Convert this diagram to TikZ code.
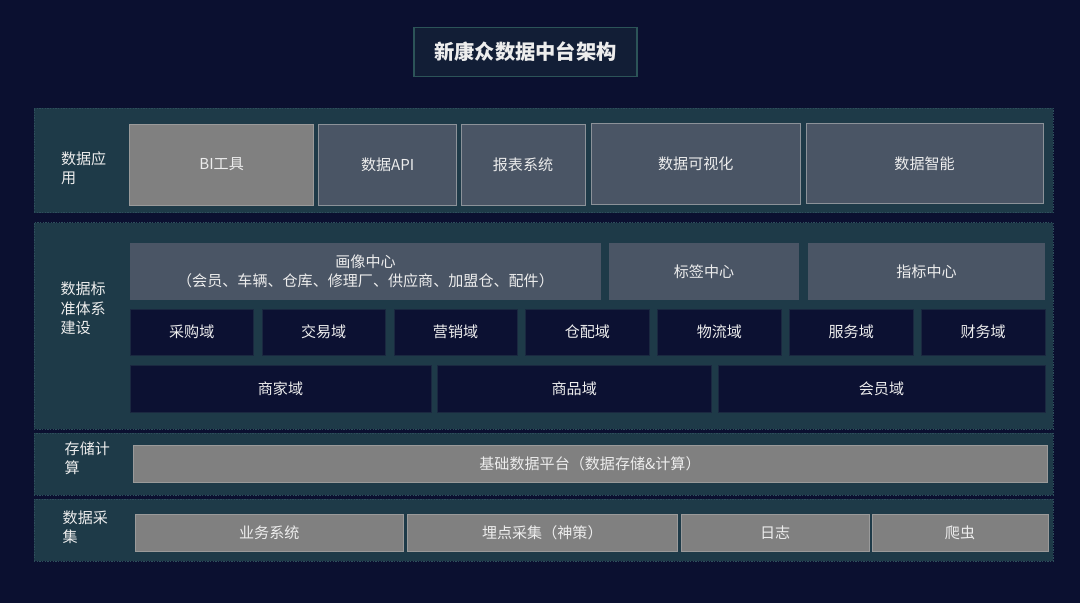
\documentclass[tikz,border=0pt]{standalone}
\usepackage{fontspec}
\setmainfont{Noto Sans CJK SC}
\usepackage{tikz}
\definecolor{bgnavy}{HTML}{0B1030}
\definecolor{bandteal}{HTML}{1E3A48}
\definecolor{bandedge}{HTML}{2E4E5C}
\definecolor{titlefill}{HTML}{121E36}
\definecolor{titleedge}{HTML}{2C5458}
\definecolor{boxgrey}{HTML}{808080}
\definecolor{greyedge}{HTML}{9A9A9A}
\definecolor{boxslate}{HTML}{4A5565}
\definecolor{slateedge}{HTML}{8C9299}
\definecolor{domainnavy}{HTML}{0C1132}
\definecolor{domainedge}{HTML}{1A2840}
\definecolor{txtwhite}{HTML}{EDEDED}

\begin{document}
\begin{tikzpicture}[x=0.75pt, y=-0.75pt,
  every node/.style={rectangle, inner sep=0pt, outer sep=0pt, text=txtwhite, font=\fontsize{11.3}{14.4}\selectfont},
  wh/.style 2 args={minimum width=#1*0.75pt, minimum height=#2*0.75pt},
  band/.style={fill=bandteal, draw=bandedge, dash pattern=on 1pt off 1pt, line width=0.5pt},
  titlebox/.style={fill=titlefill, draw=titleedge, line width=0.8pt, font=\fontsize{15.2}{18}\selectfont\bfseries},
  greybox/.style={fill=boxgrey, draw=greyedge, line width=0.6pt},
  slatebox/.style={fill=boxslate, draw=slateedge, line width=0.6pt},
  centerbox/.style={fill=boxslate, align=center},
  domainbox/.style={fill=domainnavy, draw=domainedge, line width=0.4pt},
  layerlabel/.style={anchor=west, align=left}]
\fill[bgnavy] (0,0) rectangle (1080,603);
\node[titlebox, wh={223}{49}] (title) at (525.5,52) {新康众数据中台架构};
\node[band, wh={1019}{104.7}] (appband) at (543.5,160.3) {};
\node[band, wh={1019}{206.6}] (stdband) at (543.5,326) {};
\node[band, wh={1019}{61.7}] (storeband) at (543.5,464.2) {};
\node[band, wh={1019}{61.7}] (collectband) at (543.5,530.2) {};
\node[layerlabel] (applabel) at (61,168.5) {数据应\\用};
\node[layerlabel] (stdlabel) at (60.6,308.3) {数据标\\准体系\\建设};
\node[layerlabel] (storelabel) at (64.7,457.9) {存储计\\算};
\node[layerlabel] (collectlabel) at (62.7,527.2) {数据采\\集};
\node[greybox, wh={184}{81}] (bi) at (221.6,164.5) {BI工具};
\node[slatebox, wh={137.7}{81}] (api) at (387.7,164.5) {数据API};
\node[slatebox, wh={123.8}{81}] (report) at (523,164.5) {报表系统};
\node[slatebox, wh={209.7}{81}] (visual) at (695.8,164) {数据可视化};
\node[slatebox, wh={236.8}{80.4}] (smart) at (924.6,163.5) {数据智能};
\node[centerbox, wh={471}{57.3}] (portrait) at (365.5,271.3) {画像中心\\（会员、车辆、仓库、修理厂、供应商、加盟仓、配件）};
\node[centerbox, wh={190}{57.3}] (tag) at (704,271.3) {标签中心};
\node[centerbox, wh={237}{57.3}] (metric) at (926.5,271.3) {指标中心};
\node[domainbox, wh={123.5}{45.7}] (purchase) at (191.75,332.2) {采购域};
\node[domainbox, wh={123.5}{45.7}] (trade) at (323.65,332.2) {交易域};
\node[domainbox, wh={123.5}{45.7}] (marketing) at (455.55,332.2) {营销域};
\node[domainbox, wh={123.5}{45.7}] (warehouse) at (587.45,332.2) {仓配域};
\node[domainbox, wh={123.5}{45.7}] (logistics) at (719.35,332.2) {物流域};
\node[domainbox, wh={123.5}{45.7}] (service) at (851.25,332.2) {服务域};
\node[domainbox, wh={123.5}{45.7}] (finance) at (983.15,332.2) {财务域};
\node[domainbox, wh={301}{47.3}] (merchant) at (280.5,388.7) {商家域};
\node[domainbox, wh={274.5}{47.3}] (goods) at (574.25,388.7) {商品域};
\node[domainbox, wh={327}{47.3}] (member) at (881.5,388.7) {会员域};
\node[greybox, wh={914}{37.3}] (platform) at (590,463.7) {基础数据平台（数据存储\&计算）};
\node[greybox, wh={268.6}{37}] (business) at (269.3,532.5) {业务系统};
\node[greybox, wh={269.3}{37}] (tracking) at (542.3,532.5) {埋点采集（神策）};
\node[greybox, wh={188.5}{37}] (logs) at (775.2,533) {日志};
\node[greybox, wh={176}{37}] (crawler) at (960,533) {爬虫};
\end{tikzpicture}
\end{document}
